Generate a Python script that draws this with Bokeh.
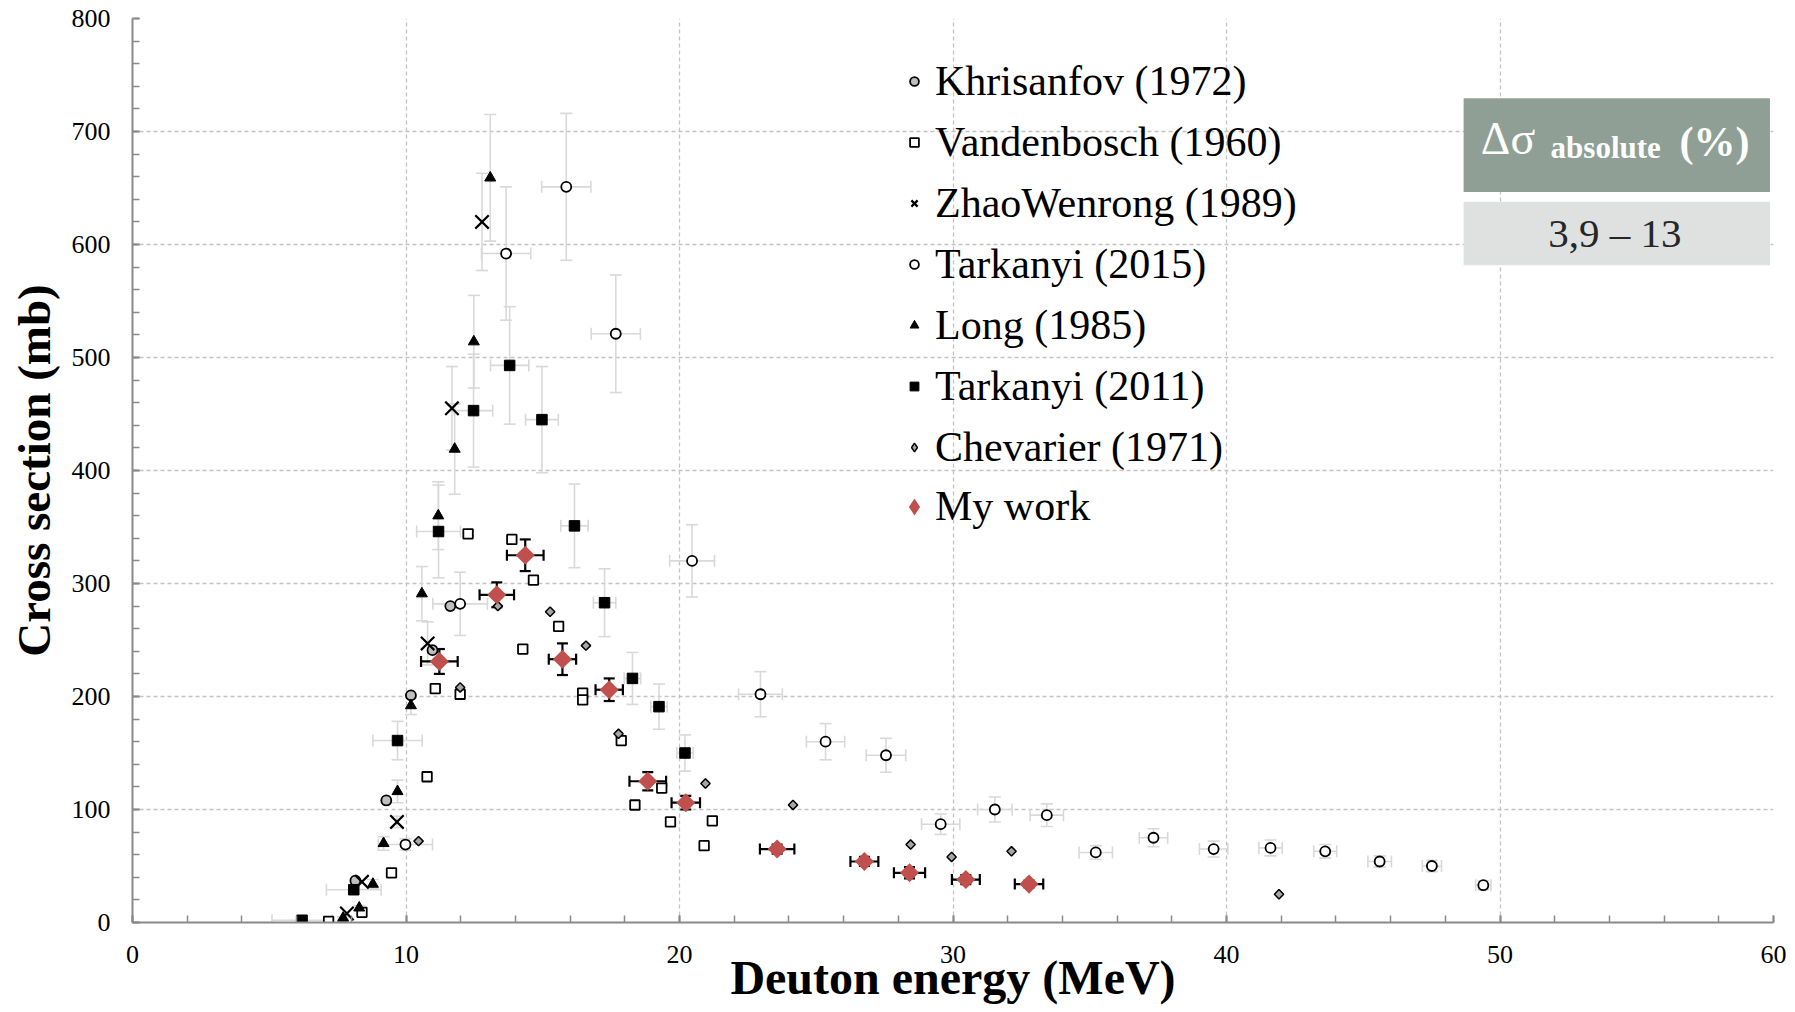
import numpy as np
from bokeh.plotting import figure
from bokeh.models import (Range1d, SingleIntervalTicker, ColumnDataSource, Whisker, TeeHead,
                          Legend, LegendItem, BoxAnnotation, Label)
from bokeh.embed import file_html
from bokeh.resources import INLINE

# ---------------- data ----------------
kh_E = [8.15, 9.28, 10.18, 10.97, 11.62]
kh_s = [37, 108, 201, 241, 280]

va_E = [7.17, 8.39, 9.47, 10.77, 11.07, 11.98, 12.27, 13.87, 14.27, 14.66, 15.58,
        16.46, 16.46, 17.87, 18.37, 19.35, 19.67, 20.9, 21.2]
va_s = [1, 9, 44, 129, 207, 202, 344, 339, 242, 303, 262, 203, 197, 161, 104, 119, 89, 68, 90]

zh_E = [7.84, 8.39, 9.67, 10.79, 11.68, 12.78]
zh_s = [8, 36, 89, 247, 455, 620]
zh_ey = [0, 0, 5, 19, 37, 43]

lo_E = [7.70, 8.29, 8.79, 9.18, 9.69, 10.18, 10.58, 11.18, 11.78, 12.48, 13.08]
lo_s = [4, 13, 34, 70, 116, 192, 291, 360, 419, 514, 659]
lo_ey = [1, 2, 4, 6, 10, 8, 24, 30, 40, 41, 56]

t15_E = [9.98, 11.98, 13.66, 15.86, 17.67, 20.46, 22.96, 25.34, 27.55, 29.55, 31.53,
         33.43, 35.22, 37.33, 39.53, 41.61, 43.61, 45.6, 47.51, 49.39]
t15_s = [69, 282, 592, 651, 521, 320, 202, 160, 148, 87, 100, 95, 62, 75, 65, 66, 63, 54, 50, 33]
t15_ex = [0.99, 1.0, 0.9, 0.9, 0.9, 0.82, 0.8, 0.7, 0.72, 0.7, 0.63, 0.61, 0.61, 0.52,
          0.52, 0.43, 0.42, 0.43, 0.35, 0.28]
t15_ey = [5, 28, 59, 65, 52, 32, 20, 16, 15, 9, 11, 10, 6, 8, 7, 7, 6, 5, 5, 4]

t11_E = [6.2, 8.09, 9.69, 11.19, 12.47, 13.79, 14.97, 16.16, 17.26, 18.28, 19.25, 20.2]
t11_s = [2, 29, 161, 346, 453, 493, 445, 351, 283, 216, 191, 150]
t11_ex = [1.1, 1.0, 0.9, 0.8, 0.7, 0.7, 0.6, 0.5, 0.41, 0.3, 0.3, 0.3]
t11_ey = [1, 4, 17, 41, 50, 52, 47, 37, 30, 23, 20, 16]

ch_E = [10.46, 11.98, 13.36, 15.27, 16.58, 17.77, 20.95, 24.15, 28.45, 29.95, 32.14, 41.92]
ch_s = [72, 208, 280, 275, 245, 167, 123, 104, 69, 58, 63, 25]

mw_E = [11.22, 13.32, 14.36, 15.72, 17.43, 18.84, 20.23, 23.57, 26.76, 28.41, 30.47, 32.78]
mw_s = [231, 290, 325, 233, 206, 125, 106, 65, 54, 44, 38, 34]
mw_ex = [0.67, 0.63, 0.67, 0.5, 0.5, 0.67, 0.52, 0.63, 0.51, 0.57, 0.51, 0.52]
mw_ey = [11, 11, 14, 14, 10, 8, 6, 4, 4, 5, 4, 3]

x_ticks_interval = 10
y_ticks_interval = 100
box_header = ["Δσ", "absolute", "(%)"]
box_value = "3,9 – 13"

FONT = "Liberation Serif"
GRID = "#c3c3c3"
AXIS = "#8a8a8a"
ERRG = "#d9d9d9"
MW_RED = "#c0504d"
CH_GREY = "#a6a6a6"

# ---------------- figure ----------------
p = figure(width=1795, height=1012, x_range=Range1d(0, 60), y_range=Range1d(0, 800),
           output_backend="svg", toolbar_location=None,
           min_border_left=132, min_border_right=22, min_border_top=18, min_border_bottom=90)
p.outline_line_color = None
p.background_fill_color = "white"

p.xaxis.ticker = SingleIntervalTicker(interval=x_ticks_interval, num_minor_ticks=5)
p.yaxis.ticker = SingleIntervalTicker(interval=y_ticks_interval, num_minor_ticks=5)
for ax in (p.xaxis, p.yaxis):
    ax.axis_line_color = AXIS
    ax.axis_line_width = 2
    ax.major_tick_line_color = AXIS
    ax.major_tick_line_width = 2
    ax.minor_tick_line_color = AXIS
    ax.minor_tick_line_width = 1.5
    ax.major_tick_in = 7
    ax.major_tick_out = 0
    ax.minor_tick_in = 7
    ax.minor_tick_out = 0
    ax.major_label_text_font = FONT
    ax.major_label_text_font_size = "26px"
    ax.major_label_text_color = "black"
    ax.axis_label_text_font = FONT
    ax.axis_label_text_font_style = "bold"
    ax.axis_label_text_color = "black"

p.xaxis.axis_label = "Deuton energy (MeV)"
p.xaxis.axis_label_text_font_size = "48px"
p.xaxis.major_label_standoff = 23
p.xaxis.axis_label_standoff = -15
p.yaxis.axis_label = "Cross section (mb)"
p.yaxis.axis_label_text_font_size = "47px"
p.yaxis.major_label_standoff = 22
p.yaxis.axis_label_standoff = 9

for g in (p.xgrid, p.ygrid):
    g.grid_line_color = GRID
    g.grid_line_dash = "4 3"
    g.grid_line_width = 1.3

# ---------------- error bars ----------------
def add_err(E, s, ex=None, ey=None, color=ERRG, width=1.6, cap=12):
    E = np.asarray(E, float); s = np.asarray(s, float)
    if ey is not None:
        ey = np.asarray(ey, float); m = ey > 0
        src = ColumnDataSource(dict(x=E[m], lo=s[m] - ey[m], hi=s[m] + ey[m]))
        p.add_layout(Whisker(source=src, base="x", lower="lo", upper="hi", dimension="height",
                             line_color=color, line_width=width, level="underlay",
                             lower_head=TeeHead(size=cap, line_color=color, line_width=width),
                             upper_head=TeeHead(size=cap, line_color=color, line_width=width)))
    if ex is not None:
        ex = np.asarray(ex, float); m = ex > 0
        src = ColumnDataSource(dict(y=s[m], lo=E[m] - ex[m], hi=E[m] + ex[m]))
        p.add_layout(Whisker(source=src, base="y", lower="lo", upper="hi", dimension="width",
                             line_color=color, line_width=width, level="underlay",
                             lower_head=TeeHead(size=cap, line_color=color, line_width=width),
                             upper_head=TeeHead(size=cap, line_color=color, line_width=width)))

add_err(zh_E, zh_s, ey=zh_ey)
add_err(lo_E, lo_s, ey=lo_ey)
add_err(t15_E, t15_s, ex=t15_ex, ey=t15_ey)
add_err(t11_E, t11_s, ex=t11_ex, ey=t11_ey)
add_err(mw_E, mw_s, ex=mw_ex, ey=mw_ey, color="black", width=2.2, cap=11)

# ---------------- markers ----------------
r_kh = p.scatter(kh_E, kh_s, marker="circle", size=10, fill_color="#bfbfbf",
                 line_color="black", line_width=1.8)
r_va = p.scatter(va_E, va_s, marker="square", size=9.5, fill_color="white",
                 line_color="black", line_width=1.8)
r_zh = p.scatter(zh_E, zh_s, marker="x", size=19, line_color="black", line_width=2.2)
r_t15 = p.scatter(t15_E, t15_s, marker="circle", size=10, fill_color="white",
                  line_color="black", line_width=1.8)
r_lo = p.scatter(lo_E, lo_s, marker="triangle", size=11, fill_color="black",
                 line_color="black", line_width=1)
r_t11 = p.scatter(t11_E, t11_s, marker="square", size=10.5, fill_color="black",
                  line_color="black", line_width=1)
r_ch = p.scatter(ch_E, ch_s, marker="square", angle=np.pi / 4, size=6.6, fill_color=CH_GREY,
                 line_color="black", line_width=1.5)
r_mw = p.scatter(mw_E, mw_s, marker="square", angle=np.pi / 4, size=13.5, fill_color=MW_RED,
                 line_color=None)

# legend-only proxies (legend glyphs are drawn unrotated, so use diamond markers there)
nan1 = [float("nan")]
r_ch_leg = p.scatter(nan1, nan1, marker="diamond", size=9, fill_color=CH_GREY,
                     line_color="black", line_width=1.5)
r_mw_leg = p.scatter(nan1, nan1, marker="diamond", size=18, fill_color=MW_RED, line_color=None)

# ---------------- legend ----------------
common = dict(orientation="vertical", padding=0, margin=0, border_line_color=None,
              background_fill_alpha=0, label_text_font=FONT, label_text_font_size="42px",
              label_text_color="black", label_height=48, spacing=13)
leg_a = Legend(items=[
    LegendItem(label="Khrisanfov (1972)", renderers=[r_kh]),
    LegendItem(label="Vandenbosch (1960)", renderers=[r_va]),
    LegendItem(label="ZhaoWenrong (1989)", renderers=[r_zh]),
    LegendItem(label="Tarkanyi (2015)", renderers=[r_t15]),
    LegendItem(label="Long (1985)", renderers=[r_lo]),
    LegendItem(label="Tarkanyi (2011)", renderers=[r_t11]),
    LegendItem(label="Chevarier (1971)", renderers=[r_ch_leg]),
], location=(771, 451), glyph_width=22, glyph_height=22, label_standoff=10, **common)
leg_b = Legend(items=[LegendItem(label="My work", renderers=[r_mw_leg])],
               location=(761, 392), glyph_width=42, glyph_height=45, label_standoff=0, **common)
p.add_layout(leg_a)
p.add_layout(leg_b)

# ---------------- uncertainty box ----------------
p.add_layout(BoxAnnotation(left=48.67, right=59.87, bottom=646.5, top=729.4,
                           fill_color="#8f9f95", fill_alpha=1, line_color=None, level="overlay"))
p.add_layout(BoxAnnotation(left=48.67, right=59.87, bottom=581.6, top=637.9,
                           fill_color="#dee1e0", fill_alpha=1, line_color=None, level="overlay"))
p.add_layout(Label(x=49.3, y=694.0, text=box_header[0], text_font=FONT, text_font_size="46px",
                   text_color="white", text_baseline="alphabetic", text_align="left", level="overlay"))
p.add_layout(Label(x=51.85, y=685.4, text=box_header[1], text_font=FONT, text_font_size="31px",
                   text_font_style="bold", text_color="white", text_baseline="alphabetic",
                   text_align="left", level="overlay"))
p.add_layout(Label(x=56.56, y=690.7, text=box_header[2], text_font=FONT, text_font_size="42px",
                   text_font_style="bold", text_color="white", text_baseline="alphabetic",
                   text_align="left", level="overlay"))
p.add_layout(Label(x=54.2, y=610.5, text=box_value, text_font=FONT, text_font_size="41px",
                   text_color="#262626", text_baseline="alphabetic", text_align="center",
                   level="overlay"))

open("out.html", "w").write(file_html(p, INLINE))
